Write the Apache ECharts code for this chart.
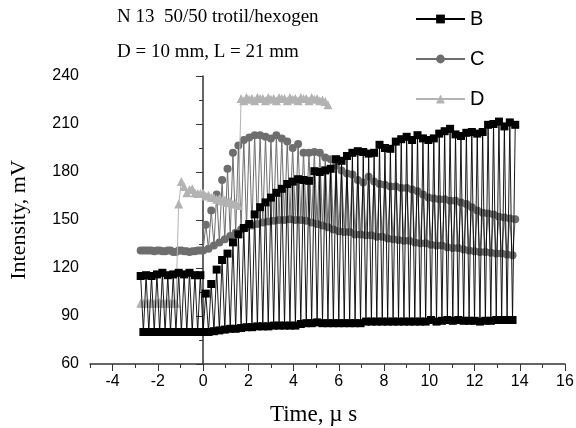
<!DOCTYPE html>
<html><head><meta charset="utf-8">
<script src="https://cdn.jsdelivr.net/npm/echarts@6/dist/echarts.min.js"></script>
<style>html,body{margin:0;padding:0;background:#fff}#c{width:576px;height:428px}</style>
</head><body><div id="c"></div>
<script>
// sample times (µs) of the upper and lower turning points
const timeTop = [-2.76,-2.52,-2.28,-2.04,-1.80,-1.56,-1.32,-1.08,-0.84,-0.60,-0.36,-0.12,
  0.12,0.36,0.60,0.84,1.08,1.32,1.56,1.80,2.04,2.28,2.52,2.76,
  3.00,3.24,3.48,3.72,3.96,4.20,4.44,4.68,4.92,5.16,5.40,5.64,
  5.88,6.12,6.36,6.60,6.84,7.08,7.32,7.56,7.80,8.04,8.28,8.52,
  8.76,9.00,9.24,9.48,9.72,9.96,10.20,10.44,10.68,10.92,11.16,11.40,
  11.64,11.88,12.12,12.36,12.60,12.84,13.08,13.32,13.56,13.80];
const timeLow = [-2.64,-2.40,-2.16,-1.92,-1.68,-1.44,-1.20,-0.96,-0.72,-0.48,-0.24,0.00,
  0.24,0.48,0.72,0.96,1.20,1.44,1.68,1.92,2.16,2.40,2.64,2.88,
  3.12,3.36,3.60,3.84,4.08,4.32,4.56,4.80,5.04,5.28,5.52,5.76,
  6.00,6.24,6.48,6.72,6.96,7.20,7.44,7.68,7.92,8.16,8.40,8.64,
  8.88,9.12,9.36,9.60,9.84,10.08,10.32,10.56,10.80,11.04,11.28,11.52,
  11.76,12.00,12.24,12.48,12.72,12.96,13.20,13.44,13.68];

// Series B (mV)
const bTop = [115,115.5,115,116,117,115.5,116,117,116,117,115.5,115.5,
  104,110,119,125,129,136,141,145,147.5,153.5,158,161,
  164,167,169.5,172.5,174,175.5,175,174.5,180.5,180,181,182,
  188,187,190,192,193,192.5,191.5,192,197,195,194.5,199,
  200.5,202,200,203,201,200,201,204,205.5,207,203.5,202.5,
  204.5,205,204,205,209.5,210,211.5,208.5,211,209.5];
const bLow = [80,80,80,80,80,80,80,80,80,80,80,80,
  80,80.5,81,81.5,82,82,82.5,83,83,83.5,83.5,83.5,
  84,84,84,84,84,85,85.5,85.5,86,85.5,85.5,85.5,
  85.5,85.5,85.5,85.5,85.5,86.5,86.5,86.5,86.5,86.5,86.5,86.5,
  86.5,86.5,86.5,86.5,86.5,87.5,86.5,87,87.5,87,87.5,87,
  87,87,86.5,87,87,87.5,87.5,87.5,87.5];

// Series C (mV)
const cTop = [131,131,131,131,130.5,131,130,131,130.5,130,130.5,131,
  147,156,166,175,182,192,196.5,200,201.5,203,203,202,
  201,203,201,199,195,197.5,192,192,192.5,192,189,188,
  184,181,179,178.5,175,173.5,177,174,172.5,172,171,171,
  170,170,169,168,166,164,163.5,163,163,162,162,161,
  160,158,156,154.5,154,153.5,152,151.5,151,150.5];
const cLow = [131,131,130.5,131,130.5,131,130,131,130.5,130.5,131,131,
  132,134,136,138,140,142,144,145.5,146.5,147.5,148.5,149,
  149.5,150,150,150.5,150,150,149.5,148.5,147.5,146.5,145.5,144,
  143,142.5,142.5,141,141,140.5,140.5,139.5,139.5,138.5,138,137.5,
  137,137,136,135.5,135.5,134.5,134,134,133,132.5,132.5,131.5,
  131,130.5,130,130,129.5,129,129,128.5,128];

// Series D (mV)
const dTop = [98,98,98.5,98,98,98.5,98,
  160,171,169,167,166.5,165,164,163,162,161,160,159,
  224.5,225.5,224.5,226,224.5,225.5,224.5,226,224.5,225.5,224.5,226,224.5,225.5,224.5,224];
const dLow = [98,98,98,98.5,98,98,98,
  174,167,169.5,166.5,167,165.5,164,163.5,162.5,161.5,160.5,
  226,
  226.5,226,226.5,226,226.5,226,226.5,226,226.5,226,226.5,226,226.5,226,225,222];

const seriesNames = ['B','C','D'];
const xTickValues = [-5,-4,-3,-2,-1,0,1,2,3,4,5,6,7,8,9,10,11,12,13,14,15,16];

function zig(top, low) {
  const out = [];
  for (let i = 0; i < top.length; i++) {
    out.push([timeTop[i], top[i]]);
    if (i < low.length) out.push([timeLow[i], low[i]]);
  }
  return out;
}

const axisColor = '#333';
const serif = 'Liberation Serif';
const sans = 'Liberation Sans';
const chart = echarts.init(document.getElementById('c'), null, {renderer: 'canvas'});
chart.setOption({
  animation: false,
  backgroundColor: '#fff',
  title: [
    {text: 'N 13  50/50 trotil/hexogen', left: 117, top: 8, padding: 0,
     textStyle: {fontFamily: serif, fontSize: 19, fontWeight: 'normal', color: '#000'}},
    {text: 'D = 10 mm, L = 21 mm', left: 117, top: 43, padding: 0,
     textStyle: {fontFamily: serif, fontSize: 19, fontWeight: 'normal', color: '#000'}}
  ],
  legend: {
    data: seriesNames, orient: 'vertical', left: 415, top: 9, padding: 0,
    itemWidth: 49, itemHeight: 11, itemGap: 20,
    textStyle: {fontFamily: sans, fontSize: 20, color: '#000'}
  },
  grid: {left: 90, right: 11, top: 76, bottom: 64, containLabel: false, outerBoundsMode: 'none'},
  xAxis: [
    {type: 'value', min: -5, max: 16, interval: 1,
     axisLine: {show: true, lineStyle: {color: axisColor, width: 1.5}},
     axisTick: {show: true, length: 4, lineStyle: {color: axisColor, width: 1}},
     splitLine: {show: false},
     axisLabel: {formatter: v => (v % 2 === 0 ? String(v) : ''), color: '#000', fontSize: 16,
                 fontFamily: sans, margin: 10},
     name: 'Time, \u00b5 s', nameLocation: 'middle', nameGap: 39,
     nameTextStyle: {fontFamily: serif, fontSize: 23, color: '#000', padding: [0, 28, 0, 0]}},
    {type: 'category', data: xTickValues.map(String), boundaryGap: false, position: 'bottom',
     axisLine: {show: false},
     axisTick: {show: true, length: 7, interval: i => i % 2 === 1, lineStyle: {color: axisColor, width: 1}},
     axisLabel: {show: false}, splitLine: {show: false}}
  ],
  yAxis: {
    type: 'value', min: 60, max: 240, interval: 30,
    axisLine: {show: true, lineStyle: {color: axisColor, width: 1.5}},
    axisTick: {show: true, length: 7, lineStyle: {color: axisColor, width: 1}},
    minorTick: {show: true, splitNumber: 2, length: 4, lineStyle: {color: axisColor, width: 1}},
    splitLine: {show: false}, minorSplitLine: {show: false},
    axisLabel: {color: '#000', fontSize: 16, fontFamily: sans, margin: 11},
    name: 'Intensity, mV', nameLocation: 'middle', nameGap: 60,
    nameTextStyle: {fontFamily: serif, fontSize: 22, color: '#000'}
  },
  series: [
    {name: 'B', type: 'line', data: zig(bTop, bLow), symbol: 'rect', symbolSize: 8, z: 4,
     itemStyle: {color: '#000'}, lineStyle: {color: '#000', width: 0.9}},
    {name: 'C', type: 'line', data: zig(cTop, cLow), symbol: 'circle', symbolSize: 8, z: 2,
     itemStyle: {color: '#6e6e6e'}, lineStyle: {color: '#6e6e6e', width: 1}},
    {name: 'D', type: 'line', data: zig(dTop, dLow), symbol: 'triangle', symbolSize: 9, z: 3,
     itemStyle: {color: '#b3b3b3'}, lineStyle: {color: '#b3b3b3', width: 1}}
  ]
});
</script></body></html>
